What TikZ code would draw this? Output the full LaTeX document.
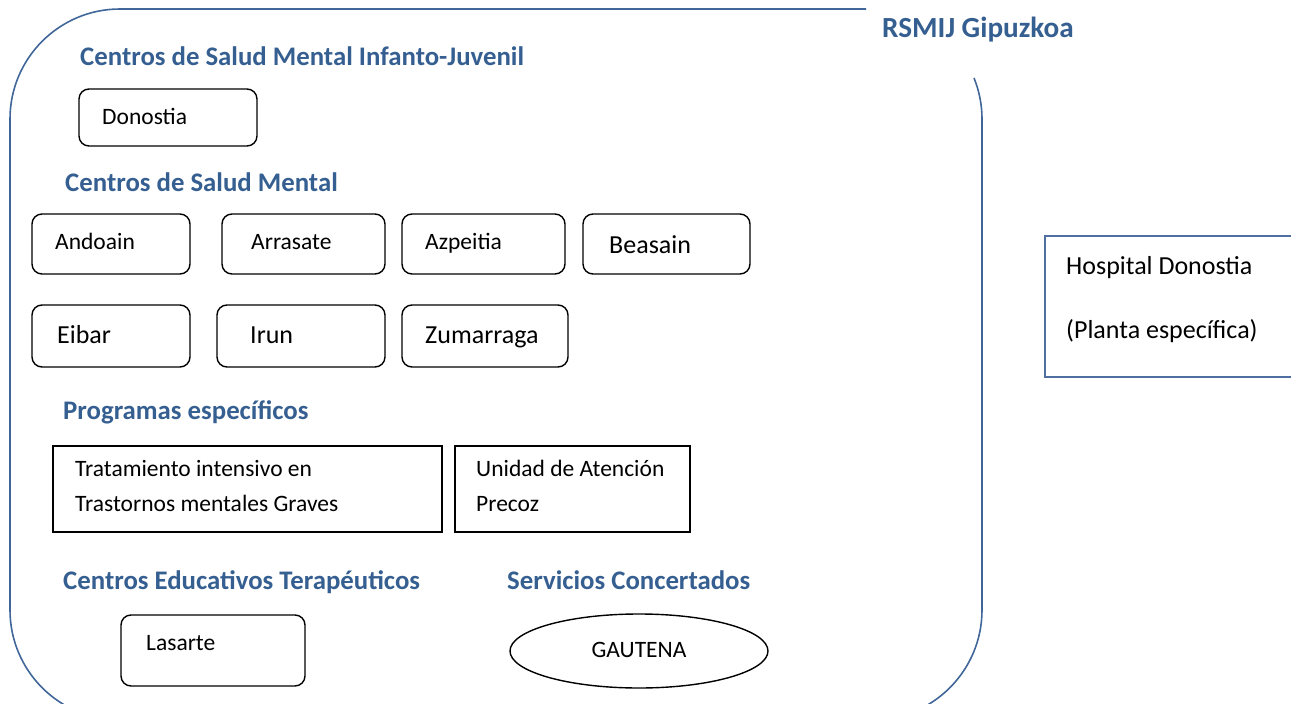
\documentclass[tikz,border=0pt]{standalone}
\usepackage{fontspec}
\setmainfont{Carlito}
\usetikzlibrary{shapes.geometric}
\definecolor{headblue}{HTML}{365F91}
\definecolor{lineblue}{HTML}{41679A}
\definecolor{hospblue}{HTML}{4F6FA0}
\begin{document}
\begin{tikzpicture}[x=1pt,y=-1pt,
  head/.style={anchor=west, inner sep=0pt, text height=17pt, text depth=0pt, font=\fontsize{26.8}{30}\selectfont\bfseries, text=headblue},
  body/.style={anchor=west, inner sep=0pt, text height=15.1pt, text depth=0pt, font=\fontsize{23.5}{28}\selectfont},
  bigbody/.style={anchor=west, inner sep=0pt, text height=16.7pt, text depth=0pt, font=\fontsize{26}{30}\selectfont},
  rbox/.style={draw=black, line width=1.4pt, rounded corners=10pt, inner sep=0pt},
  sbox/.style={draw=black, line width=1.4pt, inner sep=0pt},
]
\useasboundingbox (0,0) rectangle (1291,704);
\clip (0,0) rectangle (1291,704);

% outer rounded frame (open at top right)
\coordinate (fA) at (866,9);
\coordinate (fB) at (974,78);
\draw[lineblue, line width=1.6pt]
  (fB) .. controls (979.3,91) and (982,105) .. (982,119)
  -- (982,610) .. controls (982,670.75) and (932.75,720) .. (872,720)
  -- (120,720) .. controls (59.25,720) and (10,670.75) .. (10,610)
  -- (10,119) .. controls (10,58.25) and (59.25,9) .. (120,9)
  -- (fA);

\node[head, font=\fontsize{29.2}{33}\selectfont\bfseries, text height=18.5pt] (title) at (882,28) {RSMIJ Gipuzkoa};

% Infanto-juvenil
\node[head] (h1) at (80,57) {Centros de Salud Mental Infanto-Juvenil};
\node[rbox, minimum width=178pt, minimum height=57pt] (donostia) at (168,117.5) {};
\node[body] (donostiaT) at (102,117) {Donostia};

% Centros de salud mental
\node[head] (h2) at (65,183) {Centros de Salud Mental};
\node[rbox, minimum width=158pt, minimum height=60pt] (andoain) at (111,244) {};
\node[body] (andoainT) at (55,242) {Andoain};
\node[rbox, minimum width=163pt, minimum height=60pt] (arrasate) at (303.5,244) {};
\node[body] (arrasateT) at (251,242) {Arrasate};
\node[rbox, minimum width=163pt, minimum height=60pt] (azpeitia) at (483.5,244) {};
\node[body] (azpeitiaT) at (425,242) {Azpeitia};
\node[rbox, minimum width=167pt, minimum height=60pt] (beasain) at (666.5,244) {};
\node[bigbody] (beasainT) at (609,245) {Beasain};

\node[rbox, minimum width=158pt, minimum height=62pt] (eibar) at (111,336) {};
\node[bigbody] (eibarT) at (57,335) {Eibar};
\node[rbox, minimum width=168pt, minimum height=62pt] (irun) at (301,336) {};
\node[bigbody] (irunT) at (250,335) {Irun};
\node[rbox, minimum width=166pt, minimum height=62pt] (zumarraga) at (485,336) {};
\node[bigbody] (zumarragaT) at (425,335) {Zumarraga};

% Programas especificos
\node[head] (h3) at (63,411) {Programas específicos};
\node[sbox, minimum width=389pt, minimum height=86pt] (trat) at (247.5,489) {};
\node[body] (tratT1) at (75,469) {Tratamiento intensivo en};
\node[body] (tratT2) at (75,504) {Trastornos mentales Graves};
\node[sbox, minimum width=235pt, minimum height=86pt] (unidad) at (572.5,489) {};
\node[body] (unidadT1) at (476,469) {Unidad de Atención};
\node[body] (unidadT2) at (476,504) {Precoz};

% Centros educativos / servicios concertados
\node[head] (h4) at (63,581) {Centros Educativos Terapéuticos};
\node[head] (h5) at (507,581) {Servicios Concertados};
\node[rbox, minimum width=184pt, minimum height=71pt] (lasarte) at (213,650.5) {};
\node[body] (lasarteT) at (146,643) {Lasarte};
\node[ellipse, draw=black, line width=1.4pt, inner sep=0pt, minimum width=258pt, minimum height=74pt] (gautena) at (639,651) {};
\node[body, anchor=center] (gautenaT) at (639,650) {GAUTENA};

% Hospital
\node[draw=hospblue, line width=1.6pt, inner sep=0pt, minimum width=255pt, minimum height=141pt] (hospital) at (1172.5,306.5) {};
\node[bigbody] (hospT1) at (1066,266) {Hospital Donostia};
\node[bigbody] (hospT2) at (1066,330) {(Planta específica)};
\end{tikzpicture}
\end{document}
